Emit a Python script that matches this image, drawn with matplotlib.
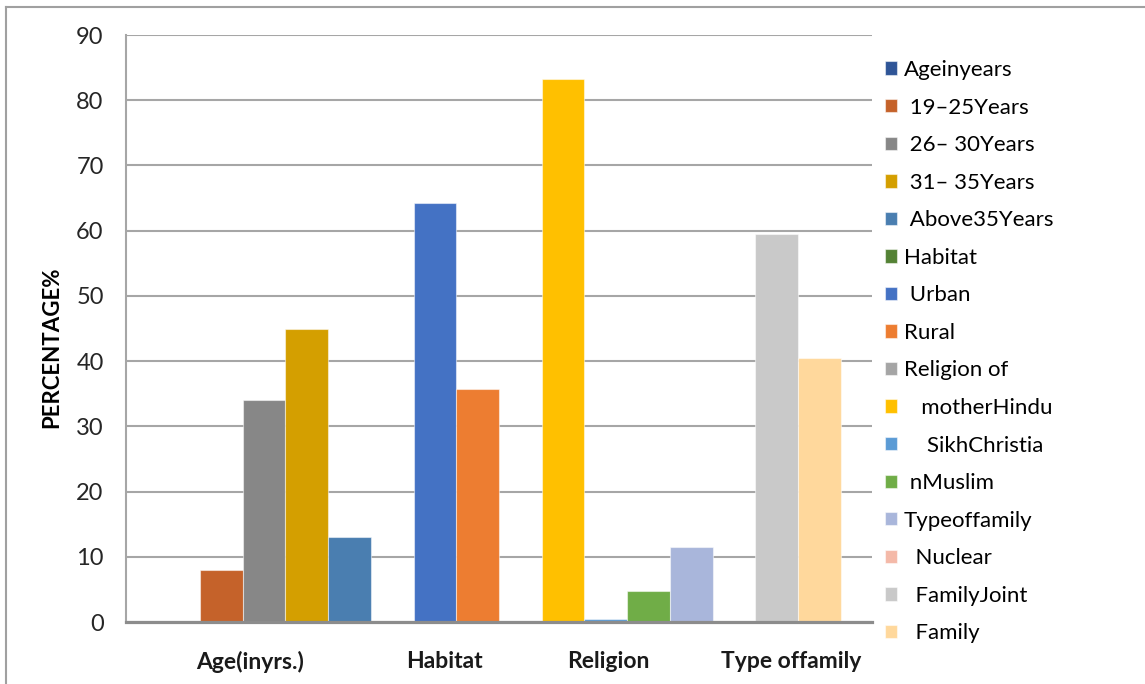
import numpy as np
import matplotlib
matplotlib.use("Agg")
import matplotlib.pyplot as plt
from matplotlib.lines import Line2D

plt.rcParams['font.family'] = ['Lato', 'DejaVu Sans']

# series names as they appear in the legend (leading spaces kept)
series = ["Ageinyears", " 19\u201325Years", " 26\u2013 30Years", " 31\u2013 35Years",
          " Above35Years", "Habitat", " Urban", "Rural", "Religion of",
          "   motherHindu", "    SikhChristia", " nMuslim", "Typeoffamily",
          "  Nuclear", "  FamilyJoint", "  Family"]
values = [0, 8.0, 34.0, 45.0, 13.0, 0, 64.2, 35.8, 0,
          83.3, 0.5, 4.7, 11.5, 0, 59.5, 40.5]
colors = ["#2F5597", "#C5622A", "#878787", "#D49F00", "#4A7EB0", "#548235",
          "#4472C4", "#ED7D31", "#A5A5A5", "#FFC000", "#5B9BD5", "#70AD47",
          "#A9B6DB", "#F4B9A8", "#C9C9C9", "#FFD89C"]

group_labels = ["Age(inyrs.)", "Habitat", "Religion", "Type offamily"]
group_label_pos = [1.68, 6.22, 10.06, 14.34]

fig = plt.figure(figsize=(11.45, 6.84), dpi=100)
ax = fig.add_axes([0.110, 0.0906, 0.6516, 0.8582])

x = np.arange(len(values))
handles = []
for i in range(len(values)):
    b = ax.bar(x[i], values[i], width=1.0, color=colors[i],
               edgecolor=(1, 1, 1, 0.5), linewidth=0.8, zorder=3,
               label=series[i])
    handles.append(b)

ax.set_xlim(-1.23, 16.23)
ax.set_ylim(0, 90)
ax.set_yticks(np.arange(0, 91, 10))
ax.yaxis.grid(True, color="#A6A6A6", linewidth=1.5, zorder=0)
ax.set_axisbelow(True)

ax.set_xticks(group_label_pos)
ax.set_xticklabels(group_labels, fontsize=16.5, fontweight="bold")
ax.tick_params(axis="x", length=0, pad=21, colors="#1a1a1a")
ax.tick_params(axis="y", length=0, pad=16, labelsize=17, colors="#262626")

ax.set_ylabel("PERCENTAGE%", fontsize=16, fontweight="bold")
ax.yaxis.set_label_coords(-0.086, 0.468)

for s in ["top", "right"]:
    ax.spines[s].set_visible(False)
ax.spines["left"].set_color("#A6A6A6")
ax.spines["left"].set_linewidth(1.5)
ax.spines["bottom"].set_color("#8C8C8C")
ax.spines["bottom"].set_linewidth(2.3)
ax.spines["bottom"].set_zorder(4)

leg = fig.legend(handles=handles, loc="upper left",
                 bbox_to_anchor=(885 / 1145, 1 - 60 / 684),
                 frameon=False, fontsize=16, handlelength=0.55,
                 handleheight=0.55, handletextpad=0.3,
                 labelspacing=0.79, borderaxespad=0, borderpad=0)

# outer chart border
fig.add_artist(Line2D([6 / 1145, 6 / 1145], [0, 1 - 7 / 684],
                      color="#A0A0A0", linewidth=1.5))
fig.add_artist(Line2D([6 / 1145, 1], [1 - 7 / 684, 1 - 7 / 684],
                      color="#A0A0A0", linewidth=1.5))

fig.savefig("out.png", dpi=100)
